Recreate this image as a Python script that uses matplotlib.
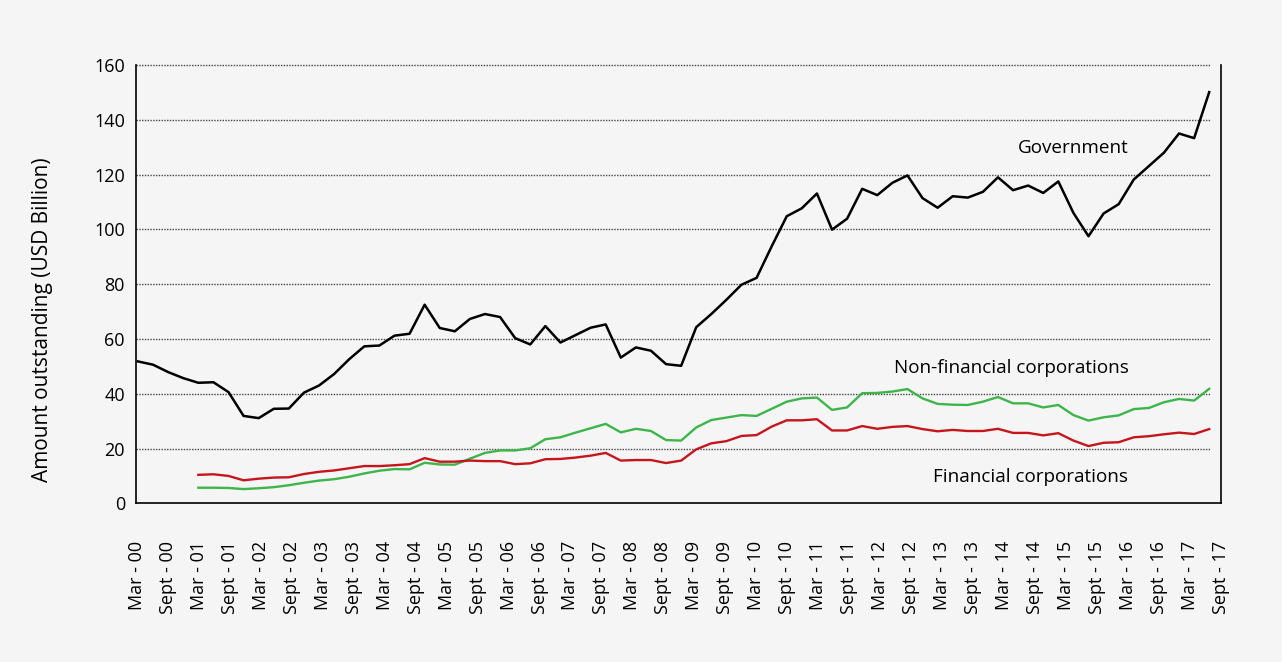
import numpy as np
import matplotlib
matplotlib.use("Agg")
import matplotlib.pyplot as plt

plt.rcParams['font.family'] = ['Open Sans', 'DejaVu Sans']

# quarterly amounts outstanding, Mar-00 .. Dec-17 (USD billion)
government = [51.8, 50.6, 47.9, 45.7, 44.0, 44.2, 40.6, 31.9, 31.1, 34.5,
              34.6, 40.4, 43.0, 47.2, 52.6, 57.3, 57.6, 61.2, 61.9, 72.5,
              64.0, 62.8, 67.3, 69.1, 68.0, 60.3, 58.0, 64.7, 58.7, 61.4,
              64.1, 65.3, 53.2, 56.9, 55.7, 50.8, 50.2, 64.3, 69.1, 74.3,
              79.8, 82.3, 93.8, 104.8, 107.7, 113.1, 99.9, 103.9, 114.8, 112.5,
              117.0, 119.7, 111.4, 107.9, 112.1, 111.6, 113.7, 119.0, 114.3, 116.0,
              113.3, 117.5, 106.0, 97.5, 105.8, 109.2, 118.2, 123.1, 128.0, 135.0,
              133.3, 150.1]

# corporations start in Mar-01
non_financial = [None] * 4 + [
              5.7, 5.7, 5.6, 5.2, 5.5, 5.9, 6.6, 7.5, 8.3, 8.8,
              9.7, 10.9, 11.9, 12.5, 12.4, 14.8, 14.2, 14.1, 16.3, 18.4,
              19.3, 19.3, 20.1, 23.4, 24.1, 25.8, 27.4, 29.0, 25.9, 27.2,
              26.4, 23.1, 22.9, 27.7, 30.4, 31.3, 32.2, 31.9, 34.5, 37.1,
              38.3, 38.6, 34.1, 35.0, 40.2, 40.3, 40.8, 41.7, 38.3, 36.3,
              36.0, 35.9, 37.1, 38.8, 36.5, 36.5, 35.0, 35.9, 32.2, 30.2,
              31.4, 32.1, 34.4, 34.8, 36.9, 38.1, 37.5, 41.8]

financial = [None] * 4 + [
              10.4, 10.6, 10.0, 8.4, 9.0, 9.4, 9.5, 10.7, 11.5, 12.0,
              12.8, 13.6, 13.6, 13.9, 14.3, 16.5, 15.2, 15.2, 15.6, 15.4,
              15.4, 14.3, 14.6, 16.1, 16.2, 16.7, 17.4, 18.4, 15.6, 15.8,
              15.8, 14.7, 15.6, 19.7, 21.9, 22.7, 24.6, 24.9, 28.0, 30.3,
              30.3, 30.7, 26.6, 26.6, 28.2, 27.2, 27.9, 28.2, 27.1, 26.3,
              26.8, 26.4, 26.4, 27.2, 25.7, 25.7, 24.8, 25.6, 22.9, 20.9,
              22.1, 22.3, 24.1, 24.5, 25.2, 25.8, 25.3, 27.1]

tick_labels = []
for yr in range(0, 18):
    tick_labels += ['Mar - %02d' % yr, 'Sept - %02d' % yr]

labels_text = ['Government', 'Non-financial corporations', 'Financial corporations']
labels_y = [129.7, 49.4, 9.7]

bg = '#f5f5f5'
fig = plt.figure(figsize=(12.82, 6.62), dpi=100, facecolor=bg)
ax = fig.add_axes([0.1061, 0.2397, 0.8463, 0.6621], facecolor=bg)

x = np.arange(len(government))
gov = np.array(government, dtype=float)
nfc = np.array([np.nan if v is None else v for v in non_financial])
fin = np.array([np.nan if v is None else v for v in financial])

ax.plot(x, gov, color='black', lw=1.8, zorder=3)
ax.plot(x, nfc, color='#3db54a', lw=1.7, zorder=3)
ax.plot(x, fin, color='#c4161c', lw=1.7, zorder=3)

x0, x1 = -0.13, 71.78
ax.set_xlim(x0, x1)
ax.set_ylim(0, 160)

# dotted gridlines stop at the last data point
for gy in range(20, 161, 20):
    ax.plot([x0, x[-1] + 0.05], [gy, gy], color='#444444', lw=1.0,
            ls=(0, (1, 1)), zorder=1, clip_on=False)

ax.set_yticks(range(0, 161, 20))
ax.tick_params(axis='y', length=0, pad=8, labelsize=13)
ax.set_xticks(np.linspace(x0 + 0.06, x1 - 0.01, len(tick_labels)))
ax.set_xticklabels(tick_labels, rotation=90, fontsize=13)
ax.tick_params(axis='x', length=0, pad=27)

ax.spines['top'].set_visible(False)
for s in ['left', 'bottom', 'right']:
    ax.spines[s].set_color('black')
    ax.spines[s].set_linewidth(1.2)

fig.text(0.033, 1 - 320 / 662, 'Amount outstanding (USD Billion)', rotation=90,
         ha='center', va='center', fontsize=15)

for txt, ty in zip(labels_text, labels_y):
    ax.text(65.65, ty, txt, ha='right', va='center', fontsize=13.6)

fig.savefig('out.png', dpi=100, facecolor=bg)
